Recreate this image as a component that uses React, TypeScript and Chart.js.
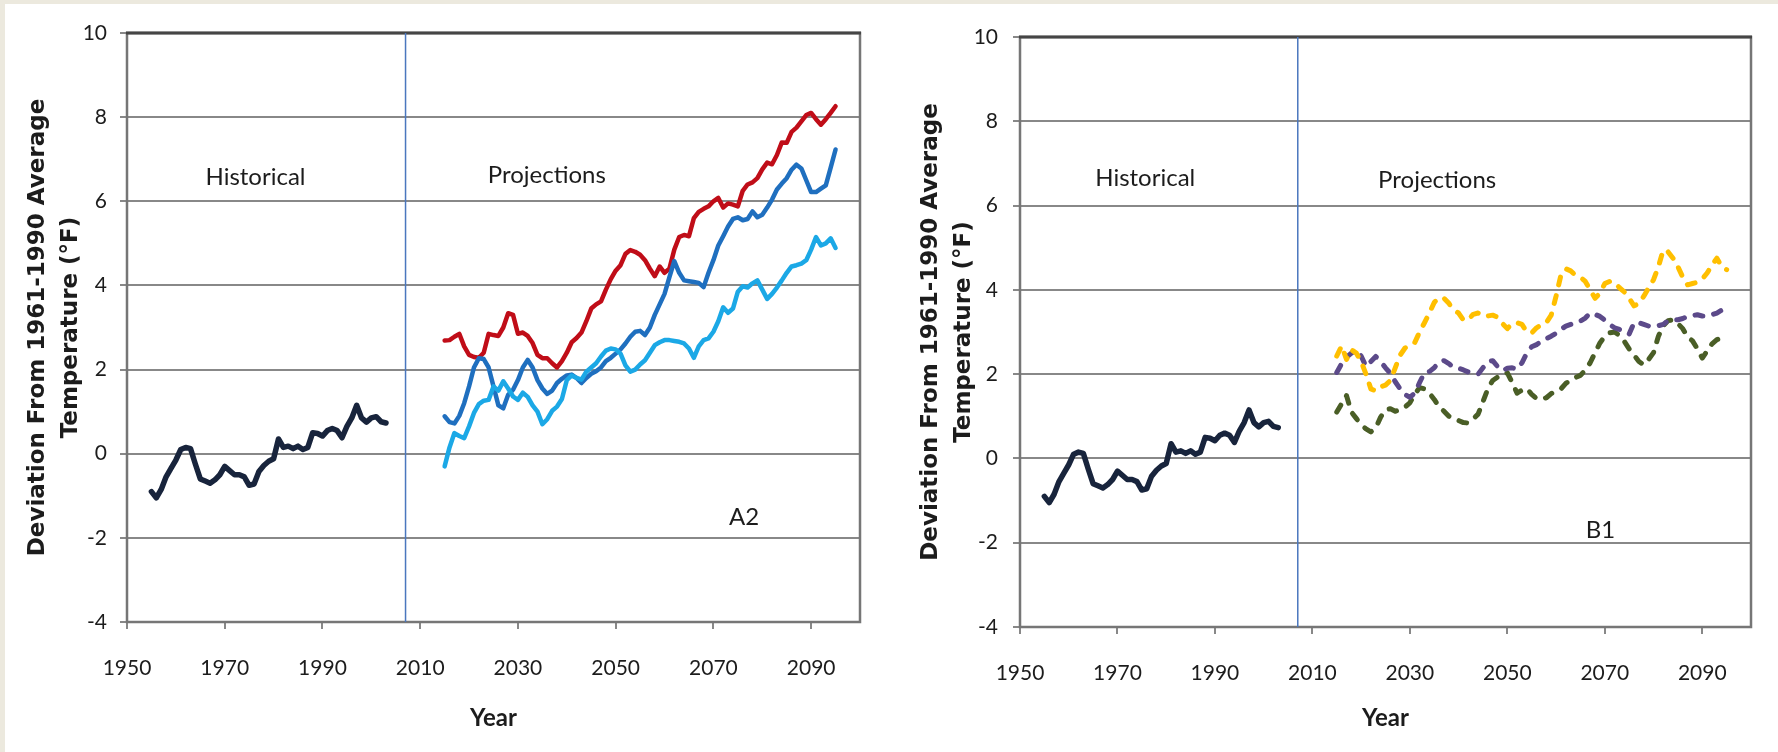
import React, { useEffect, useRef } from 'react';
import { Chart, registerables } from 'chart.js';

Chart.register(...registerables);

// ---- Data: deviation from the 1961-1990 average temperature (°F) ----

const HIST_START = 1955;
const historical = [
  -0.90, -1.05, -0.85, -0.55, -0.35, -0.15, 0.10, 0.15, 0.12, -0.25,
  -0.60, -0.65, -0.70, -0.62, -0.50, -0.30, -0.40, -0.50, -0.50, -0.55,
  -0.75, -0.72, -0.42, -0.28, -0.18, -0.12, 0.35, 0.15, 0.18, 0.12,
  0.18, 0.10, 0.15, 0.50, 0.48, 0.42, 0.55, 0.60, 0.55, 0.38,
  0.65, 0.85, 1.15, 0.85, 0.75, 0.85, 0.88, 0.76, 0.73,
];

const PROJ_START = 2015;

// A2 scenario: high, middle and low model projections
const a2High = [
  2.69, 2.70, 2.78, 2.85, 2.55, 2.35, 2.30, 2.28, 2.40, 2.85,
  2.82, 2.80, 3.00, 3.34, 3.30, 2.85, 2.88, 2.80, 2.63, 2.35,
  2.27, 2.27, 2.15, 2.05, 2.20, 2.40, 2.65, 2.75, 2.88, 3.15,
  3.45, 3.55, 3.62, 3.90, 4.15, 4.35, 4.48, 4.75, 4.84, 4.80,
  4.73, 4.60, 4.40, 4.22, 4.45, 4.30, 4.40, 4.85, 5.15, 5.20,
  5.17, 5.60, 5.75, 5.82, 5.88, 6.00, 6.08, 5.85, 5.95, 5.92,
  5.88, 6.25, 6.40, 6.45, 6.55, 6.76, 6.92, 6.88, 7.10, 7.40,
  7.39, 7.65, 7.75, 7.90, 8.05, 8.10, 7.95, 7.82, 7.95, 8.10,
  8.26,
];
const a2Mid = [
  0.89, 0.75, 0.72, 0.90, 1.20, 1.60, 2.05, 2.27, 2.25, 2.05,
  1.60, 1.15, 1.08, 1.40, 1.52, 1.75, 2.05, 2.23, 2.05, 1.75,
  1.55, 1.42, 1.50, 1.68, 1.78, 1.86, 1.88, 1.80, 1.68, 1.80,
  1.90, 1.96, 2.05, 2.20, 2.28, 2.38, 2.48, 2.62, 2.78, 2.90,
  2.92, 2.82, 3.00, 3.30, 3.55, 3.80, 4.20, 4.58, 4.30, 4.12,
  4.10, 4.08, 4.06, 3.96, 4.30, 4.60, 4.95, 5.17, 5.40, 5.58,
  5.62, 5.55, 5.58, 5.76, 5.62, 5.68, 5.85, 6.04, 6.28, 6.42,
  6.55, 6.75, 6.87, 6.78, 6.50, 6.22, 6.22, 6.30, 6.38, 6.80,
  7.23,
];
const a2Low = [
  -0.30, 0.15, 0.49, 0.42, 0.37, 0.65, 0.97, 1.18, 1.26, 1.28,
  1.60, 1.50, 1.72, 1.55, 1.36, 1.28, 1.45, 1.35, 1.15, 1.00,
  0.70, 0.82, 1.02, 1.12, 1.30, 1.75, 1.86, 1.80, 1.76, 1.95,
  2.05, 2.15, 2.31, 2.45, 2.50, 2.48, 2.38, 2.10, 1.95, 2.00,
  2.12, 2.22, 2.40, 2.58, 2.65, 2.70, 2.70, 2.68, 2.66, 2.62,
  2.50, 2.28, 2.55, 2.70, 2.74, 2.90, 3.15, 3.48, 3.35, 3.45,
  3.85, 3.98, 3.95, 4.05, 4.12, 3.90, 3.68, 3.80, 3.95, 4.12,
  4.30, 4.45, 4.48, 4.52, 4.60, 4.85, 5.15, 4.95, 5.00, 5.12,
  4.89,
];

// B1 scenario: three model projections
const b1Gold = [
  2.43, 2.67, 2.35, 2.58, 2.50, 2.30, 2.00, 1.65, 1.60, 1.70,
  1.74, 1.85, 2.15, 2.45, 2.62, 2.70, 2.75, 3.00, 3.22, 3.45,
  3.70, 3.82, 3.80, 3.68, 3.53, 3.45, 3.28, 3.30, 3.42, 3.45,
  3.38, 3.38, 3.40, 3.35, 3.20, 3.08, 3.20, 3.22, 3.18, 3.00,
  2.98, 3.10, 3.17, 3.22, 3.40, 3.85, 4.35, 4.50, 4.45, 4.35,
  4.30, 4.20, 4.00, 3.80, 3.92, 4.15, 4.20, 4.18, 4.05, 3.95,
  3.80, 3.62, 3.68, 3.85, 4.05, 4.24, 4.55, 4.95, 4.90, 4.75,
  4.55, 4.30, 4.12, 4.15, 4.18, 4.26, 4.40, 4.59, 4.75, 4.55,
  4.48,
];
const b1Purple = [
  2.04, 2.25, 2.40, 2.50, 2.58, 2.43, 2.18, 2.30, 2.42, 2.30,
  2.15, 2.02, 1.82, 1.65, 1.52, 1.45, 1.55, 1.80, 2.04, 2.06,
  2.15, 2.30, 2.32, 2.25, 2.16, 2.14, 2.10, 2.05, 2.02, 2.00,
  2.15, 2.30, 2.32, 2.18, 2.08, 2.14, 2.15, 2.12, 2.27, 2.50,
  2.65, 2.70, 2.78, 2.84, 2.90, 2.97, 3.06, 3.14, 3.18, 3.22,
  3.26, 3.33, 3.45, 3.42, 3.37, 3.28, 3.18, 3.10, 3.06, 3.00,
  2.95, 3.22, 3.22, 3.18, 3.14, 3.13, 3.15, 3.18, 3.27, 3.29,
  3.29, 3.32, 3.37, 3.39, 3.41, 3.38, 3.38, 3.41, 3.45, 3.52,
  3.61,
];
const b1Green = [
  1.10, 1.30, 1.49, 1.10, 0.95, 0.80, 0.70, 0.63, 0.72, 0.98,
  1.15, 1.18, 1.12, 1.15, 1.22, 1.32, 1.52, 1.68, 1.65, 1.55,
  1.40, 1.22, 1.12, 1.00, 0.94, 0.90, 0.85, 0.84, 0.94, 1.05,
  1.35, 1.65, 1.85, 1.93, 1.96, 2.03, 1.80, 1.55, 1.62, 1.66,
  1.52, 1.42, 1.40, 1.44, 1.54, 1.59, 1.65, 1.78, 1.86, 1.92,
  1.97, 2.10, 2.27, 2.51, 2.74, 2.90, 2.98, 3.00, 2.92, 2.78,
  2.60, 2.45, 2.30, 2.22, 2.35, 2.51, 2.90, 3.15, 3.27, 3.29,
  3.20, 3.08, 2.88, 2.79, 2.60, 2.38, 2.55, 2.72, 2.82, 2.86,
  2.84,
];

const X_MIN = 1950;
const X_MAX = 2100;
const X_TICKS = [1950, 1970, 1990, 2010, 2030, 2050, 2070, 2090];
const Y_MIN = -4;
const Y_MAX = 10;
const Y_STEP = 2;
const DIVIDER_YEAR = 2007;

const Y_TITLE = ['Deviation From 1961-1990 Average', 'Temperature (°F)'];
const X_TITLE = 'Year';

// ---- Styling ----
const CANVAS_W = 889;
const CANVAS_H = 752;
const GRID = '#888888';
const FRAME = '#767676';
const FRAME_TOP = '#454545';
const TEXT = '#1c1c1c';
const LABEL_FONT = 'Lato, "Open Sans", sans-serif';

type Series = { values: number[]; start: number; color: string; width: number; dashed?: boolean };
type Note = { text: string; x: number; y: number };
type PanelConfig = {
  left: number;
  plotLeft: number;
  plotTop: number;
  plotRight: number;
  plotBottom: number;
  tickPad: number;
  series: Series[];
  notes: Note[];
};

const toPoints = (start: number, values: number[]) =>
  values.map((v, i) => ({ x: start + i, y: v }));

const histSeries: Series = { values: historical, start: HIST_START, color: '#18243c', width: 5.5 };

const panels: PanelConfig[] = [
  {
    left: 0,
    plotLeft: 127,
    plotTop: 33,
    plotRight: 860,
    plotBottom: 622,
    tickPad: 13,
    series: [
      { values: a2Low, start: PROJ_START, color: '#1ba8e6', width: 4.5 },
      { values: a2Mid, start: PROJ_START, color: '#1f6fbf', width: 4.5 },
      { values: a2High, start: PROJ_START, color: '#c00d18', width: 4.5 },
      histSeries,
    ],
    notes: [
      { text: 'Historical', x: 1976.3, y: 6.56 },
      { text: 'Projections', x: 2035.9, y: 6.63 },
      { text: 'A2', x: 2076.3, y: -1.5 },
    ],
  },
  {
    left: 889,
    plotLeft: 131,
    plotTop: 37,
    plotRight: 862,
    plotBottom: 627,
    tickPad: 15,
    series: [
      { values: b1Gold, start: PROJ_START, color: '#ffbf00', width: 5, dashed: true },
      { values: b1Purple, start: PROJ_START, color: '#5c4a8a', width: 5, dashed: true },
      { values: b1Green, start: PROJ_START, color: '#4a5e26', width: 5, dashed: true },
      histSeries,
    ],
    notes: [
      { text: 'Historical', x: 1975.7, y: 6.65 },
      { text: 'Projections', x: 2035.6, y: 6.6 },
      { text: 'B1', x: 2069.1, y: -1.71 },
    ],
  },
];

// Frame around the plot area, annotation text and the two-line y title
const panelDecor = {
  id: 'panelDecor',
  beforeDatasetsDraw(chart: any) {
    const { ctx, chartArea: a } = chart;
    ctx.save();
    ctx.strokeStyle = FRAME;
    ctx.lineWidth = 2.5;
    ctx.strokeRect(a.left, a.top, a.right - a.left, a.bottom - a.top);
    ctx.strokeStyle = FRAME_TOP;
    ctx.lineWidth = 3;
    ctx.beginPath();
    ctx.moveTo(a.left - 1, a.top);
    ctx.lineTo(a.right + 1, a.top);
    ctx.stroke();
    ctx.restore();
  },
  afterDraw(chart: any, _args: any, opts: any) {
    const { ctx, chartArea: a, scales } = chart;
    ctx.save();
    ctx.fillStyle = TEXT;
    ctx.textAlign = 'center';
    ctx.textBaseline = 'middle';
    ctx.font = `24px ${LABEL_FONT}`;
    for (const n of opts.notes as Note[]) {
      ctx.fillText(n.text, scales.x.getPixelForValue(n.x), scales.y.getPixelForValue(n.y));
    }
    // rotated axis title, two lines
    ctx.font = 'bold 23px "DejaVu Sans", Verdana, sans-serif';
    const cy = (a.top + a.bottom) / 2;
    const offsets = [89, 56];
    Y_TITLE.forEach((line, i) => {
      ctx.save();
      ctx.translate(a.left - offsets[i], cy);
      ctx.rotate(-Math.PI / 2);
      ctx.fillText(line, 0, 0);
      ctx.restore();
    });
    ctx.restore();
  },
};

function Panel({ cfg }: { cfg: PanelConfig }) {
  const ref = useRef<HTMLCanvasElement>(null);

  useEffect(() => {
    const canvas = ref.current;
    if (!canvas) return;

    const datasets: any[] = cfg.series.map((s) => ({
      data: toPoints(s.start, s.values),
      borderColor: s.color,
      borderWidth: s.width,
      borderDash: s.dashed ? [8, 11] : [],
      borderCapStyle: 'round',
      borderJoinStyle: 'round',
      pointRadius: 0,
      tension: 0,
      fill: false,
    }));
    // boundary between observed and projected periods
    datasets.push({
      data: [
        { x: DIVIDER_YEAR, y: Y_MIN },
        { x: DIVIDER_YEAR, y: Y_MAX },
      ],
      borderColor: '#4a77be',
      borderWidth: 1.5,
      pointRadius: 0,
      fill: false,
    });

    const chart = new Chart(canvas, {
      type: 'line',
      data: { datasets },
      plugins: [panelDecor],
      options: {
        responsive: false,
        animation: false,
        devicePixelRatio: 1,
        events: [],
        layout: {
          padding: { left: 0, top: cfg.plotTop, right: CANVAS_W - cfg.plotRight, bottom: 0 },
        },
        plugins: {
          legend: { display: false },
          tooltip: { enabled: false },
          panelDecor: { notes: cfg.notes },
        } as any,
        scales: {
          x: {
            type: 'linear',
            min: X_MIN,
            max: X_MAX,
            afterBuildTicks: (scale: any) => {
              scale.ticks = X_TICKS.map((v) => ({ value: v }));
            },
            afterFit: (scale: any) => {
              scale.height = CANVAS_H - cfg.plotBottom;
            },
            grid: {
              drawOnChartArea: false,
              drawTicks: true,
              tickLength: 7,
              color: GRID,
              lineWidth: 2,
            },
            border: { display: false },
            ticks: {
              autoSkip: false,
              maxRotation: 0,
              padding: 27,
              color: TEXT,
              font: { family: LABEL_FONT, size: 21 },
              callback: (v: any) => String(v),
            },
            title: {
              display: true,
              text: X_TITLE,
              color: TEXT,
              font: { family: LABEL_FONT, size: 24, weight: 'bold' },
              padding: { top: 0, bottom: 19 },
            },
          },
          y: {
            type: 'linear',
            min: Y_MIN,
            max: Y_MAX,
            afterFit: (scale: any) => {
              scale.width = cfg.plotLeft;
            },
            grid: {
              drawOnChartArea: true,
              drawTicks: true,
              tickLength: 7,
              color: GRID,
              lineWidth: 2,
            },
            border: { display: false },
            ticks: {
              stepSize: Y_STEP,
              padding: cfg.tickPad,
              color: TEXT,
              font: { family: LABEL_FONT, size: 21 },
            },
          },
        },
      } as any,
    });

    return () => chart.destroy();
  }, [cfg]);

  return (
    <canvas
      ref={ref}
      width={CANVAS_W}
      height={CANVAS_H}
      style={{ position: 'absolute', left: cfg.left, top: 0, width: CANVAS_W, height: CANVAS_H }}
    />
  );
}

export default function App() {
  return (
    <div
      style={{
        position: 'absolute',
        left: 0,
        top: 0,
        width: 1778,
        height: 752,
        background: '#ffffff',
        overflow: 'hidden',
      }}
    >
      {panels.map((p, i) => (
        <Panel key={i} cfg={p} />
      ))}
      <div style={{ position: 'absolute', left: 0, top: 0, width: 1778, height: 4, background: '#ece9de' }} />
      <div style={{ position: 'absolute', left: 0, top: 0, width: 5, height: 752, background: '#ece9de' }} />
    </div>
  );
}
